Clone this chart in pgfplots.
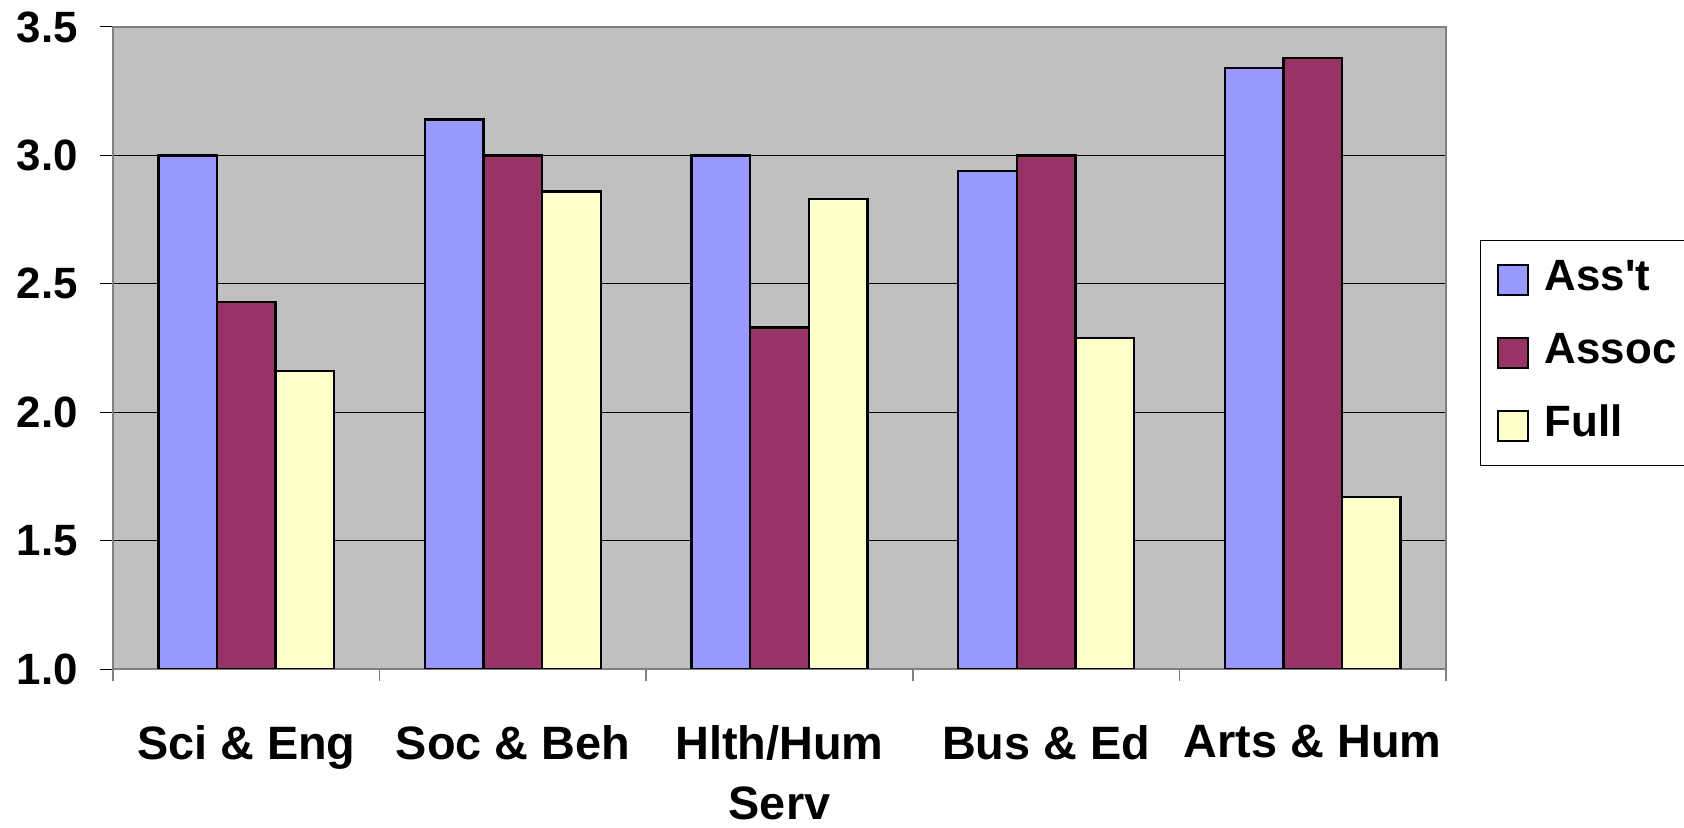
\documentclass[border=0pt]{standalone}
\usepackage{pgfplots}
\pgfplotsset{compat=1.18}
\usepackage{fontspec}
\setmainfont{Liberation Sans}
\definecolor{cAsst}{HTML}{9999FF}
\definecolor{cAssoc}{HTML}{993366}
\definecolor{cFull}{HTML}{FFFFCC}
\definecolor{plotbg}{HTML}{C0C0C0}
\definecolor{axgray}{HTML}{808080}
\newcommand{\tickbf}{\fontsize{22}{26.4}\selectfont\bfseries}
\newcommand{\catbf}{\fontsize{23.5}{30}\selectfont\bfseries}
\pgfplotsset{sqlegend/.style={legend image code/.code={\draw[##1,/tikz/.cd,bar shift=0pt] (0bp,-7.5bp) rectangle (15bp,7.5bp);}}}
\begin{document}
\begin{tikzpicture}
\begin{axis}[
  at={(56.5bp,79.5bp)}, anchor=south west,
  scale only axis, width=666.5bp, height=321bp,
  ybar=0pt, bar width=0.22,
  xmin=-0.5, xmax=4.5, ymin=1, ymax=3.5,
  ytick={1,1.5,2,2.5,3,3.5},
  xtick={0,1,2,3,4},
  xticklabels={Sci \& Eng, Soc \& Beh, Hlth/Hum\\Serv, Bus \& Ed, Arts \& Hum},
  minor xtick={-0.5,0.5,1.5,2.5,3.5,4.5},
  xtick pos=bottom, ytick pos=left,
  tick align=outside,
  major tick length=6.5bp, minor tick length=6bp,
  major x tick style={draw=none},
  minor x tick style={draw=axgray, line width=0.75bp},
  ytick style={draw=black, line width=0.5bp},
  ymajorgrids, major grid style={black, line width=0.5bp},
  axis background/.style={fill=plotbg},
  axis line style={axgray, line width=0.75bp},
  /pgf/number format/assume math mode=true,
  yticklabel style={/pgf/number format/fixed, /pgf/number format/fixed zerofill, /pgf/number format/precision=1, inner xsep=0pt, xshift=-11bp, font=\tickbf},
  xticklabel style={align=center, anchor=north, inner sep=0pt, yshift=-21.5bp, font=\catbf},
  legend style={at={(1.0255,0.668)}, anchor=north west, draw=black, line width=0.5bp, fill=white,
    font=\fontsize{22}{26.4}\selectfont\bfseries, inner xsep=8bp, inner ysep=11.5bp,
    row sep=20.3bp, column sep=8bp,
    nodes={inner sep=0pt, text height=13bp, text depth=2bp}},
  legend cell align=left,
]
\addplot[fill=cAsst, draw=black, line width=1.2bp, bar shift=-0.22, sqlegend]
  coordinates {(0,3.00) (1,3.14) (2,3.00) (3,2.94) (4,3.34)};
\addplot[fill=cAssoc, draw=black, line width=1.2bp, bar shift=0, sqlegend]
  coordinates {(0,2.43) (1,3.00) (2,2.33) (3,3.00) (4,3.38)};
\addplot[fill=cFull, draw=black, line width=1.2bp, bar shift=0.22, sqlegend]
  coordinates {(0,2.16) (1,2.86) (2,2.83) (3,2.29) (4,1.67)};
\legend{Ass\textquotesingle t, Assoc, Full}
\end{axis}
\pgfresetboundingbox
\path[use as bounding box] (0,0) rectangle (842bp,414bp);
\end{tikzpicture}
\end{document}
